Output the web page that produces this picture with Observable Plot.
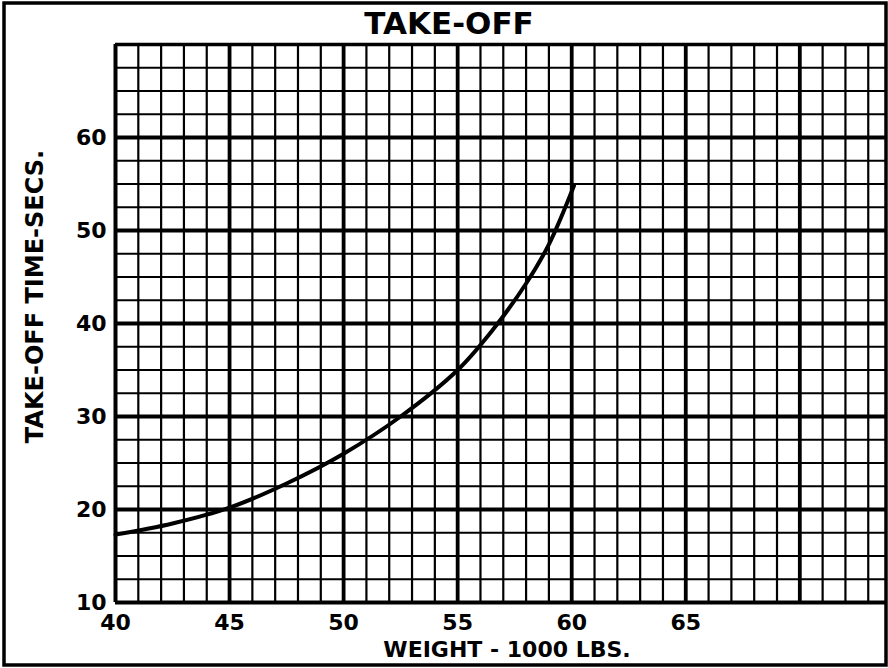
<!DOCTYPE html>
<html>
<head>
<meta charset="utf-8">
<script src="https://cdn.jsdelivr.net/npm/d3@7"></script>
<script src="https://cdn.jsdelivr.net/npm/@observablehq/plot@0.6"></script>
<style>
  html, body { margin: 0; padding: 0; background: #fff; }
  svg { display: block; }
</style>
</head>
<body>
<div id="chart"></div>
<script>
// Data
const weight = [40, 42.5, 45, 47.5, 50, 52.5, 55, 56.5, 58, 59, 60.1];
const takeoffTime = [17.3, 18.5, 20.2, 22.8, 26.0, 30.0, 35.0, 39.2, 44.3, 48.5, 54.8];
const xTickLabels = [40, 45, 50, 55, 60, 65];
const yTickLabels = [10, 20, 30, 40, 50, 60];
const titleText = "TAKE-OFF";
const xTitle = "WEIGHT - 1000 LBS.";
const yTitle = "TAKE-OFF TIME-SECS.";

const data = weight.map((w, i) => ({weight: w, time: takeoffTime[i]}));

const xMinor = d3.range(41, 74, 1);
const xMajor = d3.range(45, 74, 5);
const yMinor = d3.range(12.5, 70, 2.5);
const yMajor = d3.range(20, 70, 10);

const font = "DejaVu Sans, sans-serif";

const chart = Plot.plot({
  width: 888,
  height: 668,
  marginLeft: 115,
  marginRight: 2,
  marginTop: 44,
  marginBottom: 66,
  x: {domain: [40, 73.8], axis: null},
  y: {domain: [10, 70], axis: null},
  style: {background: "#fff", fontFamily: font},
  marks: [
    Plot.ruleX(xMinor, {x: d => d, stroke: "#000", strokeWidth: 2.2}),
    Plot.ruleY(yMinor, {y: d => d, stroke: "#000", strokeWidth: 2.2}),
    Plot.ruleX(xMajor, {x: d => d, stroke: "#000", strokeWidth: 3.8}),
    Plot.ruleY(yMajor, {y: d => d, stroke: "#000", strokeWidth: 3.8}),
    Plot.ruleX([40], {x: d => d, stroke: "#000", strokeWidth: 4}),
    Plot.ruleY([10], {y: d => d, stroke: "#000", strokeWidth: 4}),
    Plot.ruleY([70], {y: d => d, stroke: "#000", strokeWidth: 3.5}),
    Plot.line(data, {x: "weight", y: "time", curve: "catmull-rom", stroke: "#000", strokeWidth: 4}),
    Plot.text(xTickLabels, {x: d => d, frameAnchor: "bottom", dy: 20, text: d => String(d),
      fontSize: 22, fontWeight: "bold", fill: "#000", lineAnchor: "middle"}),
    Plot.text(yTickLabels, {y: d => d, frameAnchor: "left", dx: -9, text: d => String(d),
      fontSize: 22, fontWeight: "bold", fill: "#000", textAnchor: "end", lineAnchor: "middle"}),
    Plot.text([xTitle], {frameAnchor: "bottom", dx: 6, dy: 47, text: d => d,
      fontSize: 22, fontWeight: "bold", fill: "#000", lineAnchor: "middle", textAnchor: "middle"}),
    Plot.text([yTitle], {frameAnchor: "left", dx: -80, dy: -27, rotate: -90, text: d => d,
      fontSize: 24, fontWeight: "bold", fill: "#000", lineAnchor: "middle", textAnchor: "middle",
      letterSpacing: "1px"}),
    Plot.text([titleText], {frameAnchor: "top", dx: -52, dy: -20, text: d => d,
      fontSize: 31, fontWeight: "bold", fill: "#000", lineAnchor: "middle", textAnchor: "middle"})
  ]
});

// outer border of the sheet
d3.select(chart).append("rect")
  .attr("x", 4).attr("y", 3).attr("width", 882).attr("height", 662)
  .attr("fill", "none").attr("stroke", "#000").attr("stroke-width", 3.5);

document.getElementById("chart").appendChild(chart);
</script>
</body>
</html>
